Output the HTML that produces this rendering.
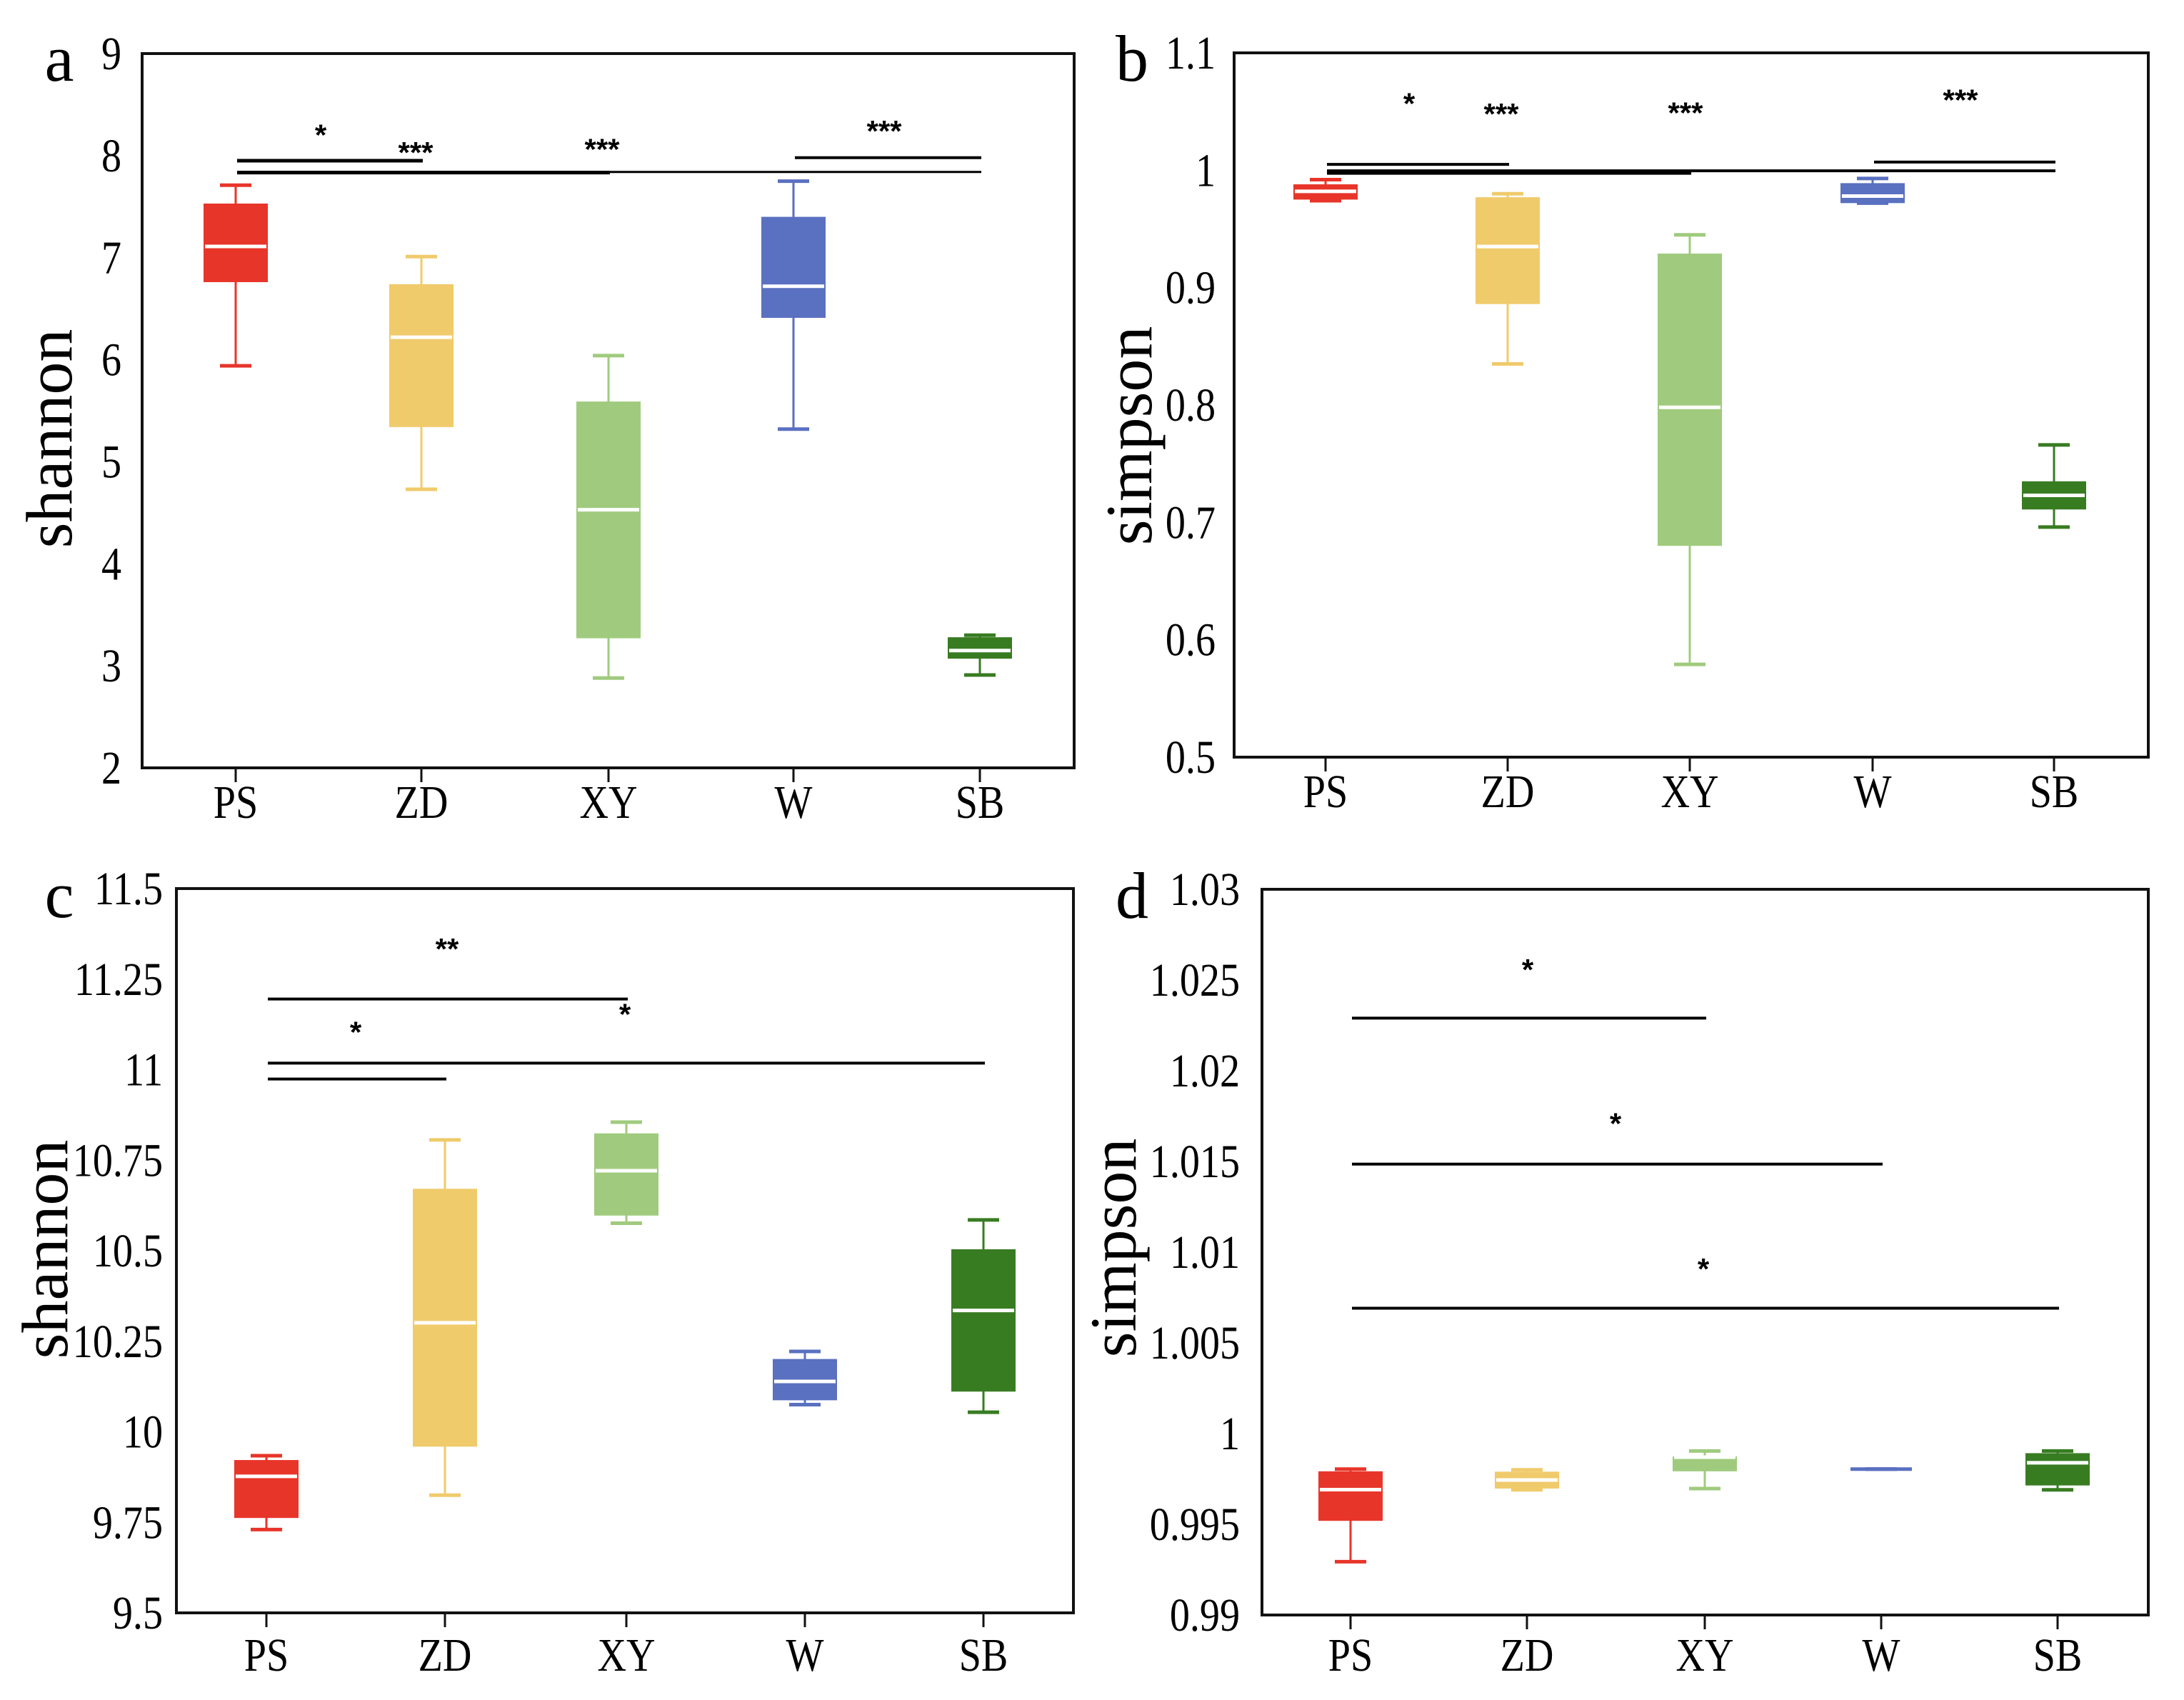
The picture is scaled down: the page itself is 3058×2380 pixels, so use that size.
<!DOCTYPE html>
<html><head><meta charset="utf-8"><style>
html,body{margin:0;padding:0;background:#fff}
svg{display:block}
text{font-family:"Liberation Serif",serif;fill:#000}
.star{font-family:"Liberation Sans",sans-serif;font-weight:bold;font-size:42px}
</style></head><body>
<svg id="fig" width="3058" height="2380" viewBox="0 0 3058 2380" xmlns="http://www.w3.org/2000/svg"></svg>
<script>
const categories = ["PS","ZD","XY","W","SB"];
const colors = ["#E8352A","#F0CB6B","#A0CB7E","#5A70C0","#387C22"];
// panel a: shannon [min, q1, median, q3, max]
const aMin = [5.94,4.73,2.88,5.32,2.91];
const aQ1  = [6.76,5.34,3.27,6.41,3.07];
const aMed = [7.11,6.22,4.53,6.72,3.15];
const aQ3  = [7.53,6.74,5.59,7.40,3.28];
const aMax = [7.71,7.01,6.04,7.75,3.30];
const aTicks = [2,3,4,5,6,7,8,9];
// panel b: simpson
const bMin = [0.974,0.835,0.579,0.972,0.696];
const bQ1  = [0.975,0.886,0.680,0.972,0.711];
const bMed = [0.982,0.935,0.798,0.978,0.723];
const bQ3  = [0.988,0.977,0.929,0.989,0.735];
const bMax = [0.992,0.980,0.945,0.993,0.766];
const bTicks = [0.5,0.6,0.7,0.8,0.9,1,1.1];
const bTickLabels = ["0.5","0.6","0.7","0.8","0.9","1","1.1"];
// panel c: shannon
const cMin = [9.73,9.825,10.576,10.075,10.054];
const cQ1  = [9.762,9.959,10.597,10.087,10.111];
const cMed = [9.877,10.301,10.721,10.139,10.335];
const cQ3  = [9.922,10.671,10.824,10.201,10.504];
const cMax = [9.934,10.806,10.855,10.222,10.585];
const cTicks = [9.5,9.75,10,10.25,10.5,10.75,11,11.25,11.5];
const cTickLabels = ["9.5","9.75","10","10.25","10.5","10.75","11","11.25","11.5"];
// panel d: simpson
const dMin = [0.99294,0.9969,0.99697,0.99804,0.9969];
const dQ1  = [0.99519,0.99697,0.99792,0.99804,0.99714];
const dMed = [0.99691,0.99744,0.9987,0.99804,0.99839];
const dQ3  = [0.99792,0.9979,0.99874,0.99804,0.99892];
const dMax = [0.99804,0.998,0.99904,0.99804,0.99904];
const dTicks = [0.99,0.995,1,1.005,1.01,1.015,1.02,1.025,1.03];
const dTickLabels = ["0.99","0.995","1","1.005","1.01","1.015","1.02","1.025","1.03"];
// significance brackets: [fromIdx, toIdx, yValue, width]
const aSig = [[0,1,7.95,5],[0,2,7.834,5],[0,4,7.84,3],[3,4,7.98,4]];
const aStars = [["*",449,8.26],["***",582,8.09],["***",843,8.12],["***",1238,8.30]];
const bSig = [[0,1,1.005,4],[0,2,0.998,6],[0,4,0.9995,4],[3,4,1.007,4]];
const bStars = [["*",1973,1.062],["***",2102,1.053],["***",2360,1.054],["***",2745,1.065]];
const cSig = [[0,2,11.195,4],[0,4,11.018,4],[0,1,10.974,4]];
const cStars = [["**",626,11.35],["*",875,11.17],["*",498,11.12]];
const dSig = [[0,2,1.0229,4],[0,3,1.01485,4],[0,4,1.00691,4]];
const dStars = [["*",2139,1.0259],["*",2262,1.01743],["*",2385,1.0094]];

const NS="http://www.w3.org/2000/svg";
const fig=document.getElementById('fig');
function mk(tag,attrs,parent){const e=document.createElementNS(NS,tag);for(const k in attrs)e.setAttribute(k,attrs[k]);(parent||fig).appendChild(e);return e;}

function panel(p){
  const g=mk('g',{});
  
  
  const y=v=>p.bottom-(v-p.vmin)/(p.vmax-p.vmin)*(p.bottom-p.top);
  const x=i=>p.cats[i];
  const fr=mk('rect',{x:p.left,y:p.top,width:p.right-p.left,height:p.bottom-p.top,fill:'none',stroke:'#111','stroke-width':4},g);
  
  
  const L=mk('text',{x:p.letterX,y:p.letterY,'font-size':92,'text-anchor':'middle'},g);
  L.textContent=p.id;
  
  
  p.ticks.forEach((t,i)=>{
    const tx=mk('text',{x:0,y:0,'font-size':66,'text-anchor':'end',transform:`translate(${p.tickX},${y(t)+22}) scale(0.85,1)`},g);
    tx.textContent=p.tickLabels?p.tickLabels[i]:String(t);
    
    
  });
  const yt=mk('text',{x:0,y:0,'font-size':92,'text-anchor':'middle',transform:`translate(${p.titleX},${p.titleY}) rotate(-90)`},g);
  yt.textContent=p.title;
  
  
  categories.forEach((c,i)=>{
    const tk=mk('line',{x1:x(i),x2:x(i),y1:p.bottom,y2:p.bottom+20,stroke:'#111','stroke-width':3},g);
    
    
    const ct=mk('text',{x:0,y:0,'font-size':66,'text-anchor':'middle',transform:`translate(${x(i)},${p.catY+4}) scale(0.85,1)`},g);
    ct.textContent=c;
    
    
  });
  const hw=45, cw=22;
  categories.forEach((c,i)=>{
    const bg=mk('g',{},g);
    
    
    const col=colors[i], cx=x(i);
    mk('line',{x1:cx,x2:cx,y1:y(p.max[i]),y2:y(p.min[i]),stroke:col,'stroke-width':3},bg);
    mk('line',{x1:cx-cw,x2:cx+cw,y1:y(p.max[i]),y2:y(p.max[i]),stroke:col,'stroke-width':5},bg);
    mk('line',{x1:cx-cw,x2:cx+cw,y1:y(p.min[i]),y2:y(p.min[i]),stroke:col,'stroke-width':5},bg);
    const h=Math.max(y(p.q1[i])-y(p.q3[i]),0);
    if(h>0.5) mk('rect',{x:cx-hw,y:y(p.q3[i]),width:2*hw,height:h,fill:col},bg);
    mk('line',{x1:cx-hw+2,x2:cx+hw-2,y1:y(p.med[i]),y2:y(p.med[i]),stroke:h>0.5?'#fff':col,'stroke-width':5},bg);
  });
  p.sig.forEach(s=>{
    const ln=mk('line',{x1:x(s[0])+2,x2:x(s[1])+2,y1:y(s[2]),y2:y(s[2]),stroke:'#000','stroke-width':s[3]},g);
    
    
  });
  p.stars.forEach(s=>{
    const st=mk('text',{x:s[1],y:y(s[2])+23,'text-anchor':'middle','class':'star'},g);
    st.textContent=s[0];
    
    
  });
}
panel({id:'a',left:199,right:1504,top:75,bottom:1075,vmin:2,vmax:9,cats:[330,590,852,1111,1372],
  ticks:aTicks,tickX:170,title:'shannon',titleX:100,titleY:614,letterX:83,letterY:113,catY:1141,
  min:aMin,q1:aQ1,med:aMed,q3:aQ3,max:aMax,sig:aSig,stars:aStars});
panel({id:'b',left:1728,right:3008,top:74,bottom:1060,vmin:0.5,vmax:1.1,cats:[1856,2111,2366,2622,2876],
  ticks:bTicks,tickLabels:bTickLabels,tickX:1702,title:'simpson',titleX:1612,titleY:610,letterX:1585,letterY:113,catY:1126,
  min:bMin,q1:bQ1,med:bMed,q3:bQ3,max:bMax,sig:bSig,stars:bStars});
panel({id:'c',left:247,right:1503,top:1244,bottom:2258,vmin:9.5,vmax:11.5,cats:[373,623,877,1127,1377],
  ticks:cTicks,tickLabels:cTickLabels,tickX:228,title:'shannon',titleX:94,titleY:1749,letterX:83,letterY:1284,catY:2335,
  min:cMin,q1:cQ1,med:cMed,q3:cQ3,max:cMax,sig:cSig,stars:cStars});
panel({id:'d',left:1767,right:3008,top:1245,bottom:2261,vmin:0.99,vmax:1.03,cats:[1891,2138,2387,2634,2881],
  ticks:dTicks,tickLabels:dTickLabels,tickX:1736,title:'simpson',titleX:1590,titleY:1747,letterX:1585,letterY:1285,catY:2335,
  min:dMin,q1:dQ1,med:dMed,q3:dQ3,max:dMax,sig:dSig,stars:dStars});
</script>
</body></html>
